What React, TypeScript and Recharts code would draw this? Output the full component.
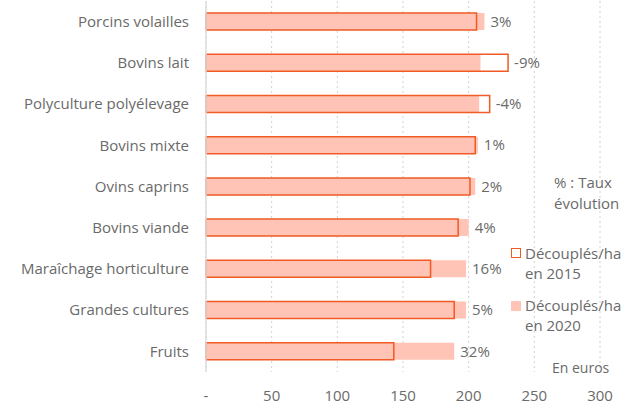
import React from 'react';
import { BarChart, Bar, XAxis, YAxis, CartesianGrid, LabelList } from 'recharts';

const categories = [
    'Porcins volailles',
    'Bovins lait',
    'Polyculture polyélevage',
    'Bovins mixte',
    'Ovins caprins',
    'Bovins viande',
    'Maraîchage horticulture',
    'Grandes cultures',
    'Fruits',
];
const values2015 = [206, 230, 216, 205, 201, 192, 171, 189, 143];
const values2020 = [212, 209, 208, 207, 205, 200, 198, 198, 189];
const rates = [3, -9, -4, 1, 2, 4, 16, 5, 32];
const xTicks = [0, 50, 100, 150, 200, 250, 300];

const data = categories.map((name, i) => ({
    name,
    v2015: values2015[i],
    v2020: values2020[i],
    rate: rates[i],
}));

const FONT = '"Open Sans", sans-serif';
const TEXT = '#6a6a6a';
const ORANGE = '#F05A24';
const PINK = '#FFC4B5';

// label after the longer of the two bars
const RateLabel = (props: any) => {
    const { x, y, width, height, value, index } = props;
    const row = data[index];
    const pxPerUnit = width / value;
    const end = x + Math.max(row.v2015, row.v2020) * pxPerUnit;
    return (
        <text x={end + 6} y={y + height / 2} dy="0.35em" fill={TEXT} fontSize={15} fontFamily={FONT}>
            {row.rate}%
        </text>
    );
};

const legendText: React.CSSProperties = {
    position: 'absolute',
    fontFamily: FONT,
    fontSize: 15,
    color: TEXT,
    lineHeight: '20px',
    whiteSpace: 'nowrap',
};

export default function App() {
    return (
        <div style={{ position: 'absolute', left: 0, top: 0, width: 638, height: 406, background: '#fff' }}>
            <BarChart
                width={638}
                height={406}
                data={data}
                layout="vertical"
                margin={{ top: 1, right: 38, bottom: 4, left: 0 }}
                barSize={17}
                barGap={-17}
            >
                <CartesianGrid horizontal={false} strokeDasharray="2 3" stroke="#d0d0d0" />
                <XAxis
                    type="number"
                    domain={[0, 300]}
                    ticks={xTicks}
                    height={30}
                    axisLine={false}
                    tickLine={false}
                    tickMargin={12}
                    tickFormatter={(v: number) => (v === 0 ? '-' : String(v))}
                    tick={{ fill: TEXT, fontSize: 15, fontFamily: FONT }}
                />
                <YAxis
                    type="category"
                    dataKey="name"
                    width={206}
                    axisLine={{ stroke: '#dddddd', strokeWidth: 1.5 }}
                    tickLine={false}
                    tickSize={0}
                    tickMargin={17}
                    tick={{ fill: TEXT, fontSize: 15, fontFamily: FONT }}
                />
                <Bar dataKey="v2020" fill={PINK} isAnimationActive={false} />
                <Bar dataKey="v2015" fill="none" stroke={ORANGE} strokeWidth={1.5} isAnimationActive={false}>
                    <LabelList dataKey="v2015" content={RateLabel} />
                </Bar>
            </BarChart>

            <span style={{ ...legendText, left: 554, top: 172 }}>% : Taux</span>
            <span style={{ ...legendText, left: 554, top: 193 }}>évolution</span>

            <div style={{ position: 'absolute', left: 511, top: 248, width: 8, height: 8, border: `1.5px solid ${ORANGE}` }} />
            <span style={{ ...legendText, left: 525, top: 243 }}>Découplés/ha</span>
            <span style={{ ...legendText, left: 525, top: 263 }}>en 2015</span>

            <div style={{ position: 'absolute', left: 511, top: 301, width: 10, height: 10, background: PINK }} />
            <span style={{ ...legendText, left: 525, top: 295 }}>Découplés/ha</span>
            <span style={{ ...legendText, left: 525, top: 315 }}>en 2020</span>

            <span style={{ ...legendText, left: 552, top: 358, fontSize: 14 }}>En euros</span>
        </div>
    );
}
